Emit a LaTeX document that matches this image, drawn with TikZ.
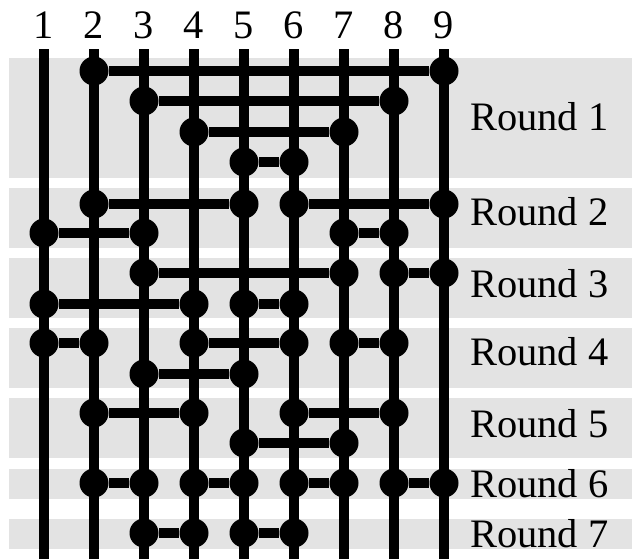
\documentclass[tikz,border=0pt]{standalone}
\usepackage{fontspec}
\setmainfont{Liberation Serif}
\usepackage{tikz}

\begin{document}
\begin{tikzpicture}[y=-1cm,
        wire/.style={line width=0.2cm},
        link/.style={line width=0.2cm},
        dot/.style={circle, fill=black, inner sep=0pt, minimum size=0.58cm},
        band/.style={fill=black!11},
        lbl/.style={font=\fontsize{23}{28}\selectfont, inner sep=0pt}]
        \useasboundingbox (0.12,0) rectangle (12.76,11.16);
        % Franjas grises de cada ronda
        \foreach \a/\b in {1.16/3.56, 3.76/4.96, 5.16/6.36, 6.56/7.76, 7.96/9.16, 9.38/9.98, 10.38/10.98}
            \fill[band] (0.3,\a) rectangle (12.76,\b);
        % Cables numerados
        \foreach \i in {1,...,9}{
            \node[lbl, anchor=base] (n\i) at (\i,0.76) {\i};
            \coordinate (top\i) at (\i,0.98);
            \coordinate (bot\i) at (\i,11.3);
            \draw[wire] (top\i) -- (bot\i);
        }
        % Comparadores (cable a, cable b, altura)
        \foreach \a/\b/\y [count=\k] in {2/9/1.42, 3/8/2.02, 4/7/2.64, 5/6/3.24,
                2/5/4.08, 6/9/4.08, 1/3/4.66, 7/8/4.66,
                3/7/5.46, 8/9/5.46, 1/4/6.08, 5/6/6.08,
                1/2/6.86, 4/6/6.86, 7/8/6.86, 3/5/7.48,
                2/4/8.26, 6/8/8.26, 5/7/8.86,
                2/3/9.66, 4/5/9.66, 6/7/9.66, 8/9/9.66,
                3/4/10.66, 5/6/10.66}{
            \node[dot] (a\k) at (\a,\y) {};
            \node[dot] (b\k) at (\b,\y) {};
            \draw[link] (a\k) -- (b\k);
        }
        % Etiquetas de las rondas
        \foreach \r/\y in {1/2.6, 2/4.5, 3/5.94, 4/7.3, 5/8.74, 6/9.94, 7/10.94}
            \node[lbl, anchor=base west] (r\r) at (9.52,\y) {Round \r};
    \end{tikzpicture}
\end{document}
